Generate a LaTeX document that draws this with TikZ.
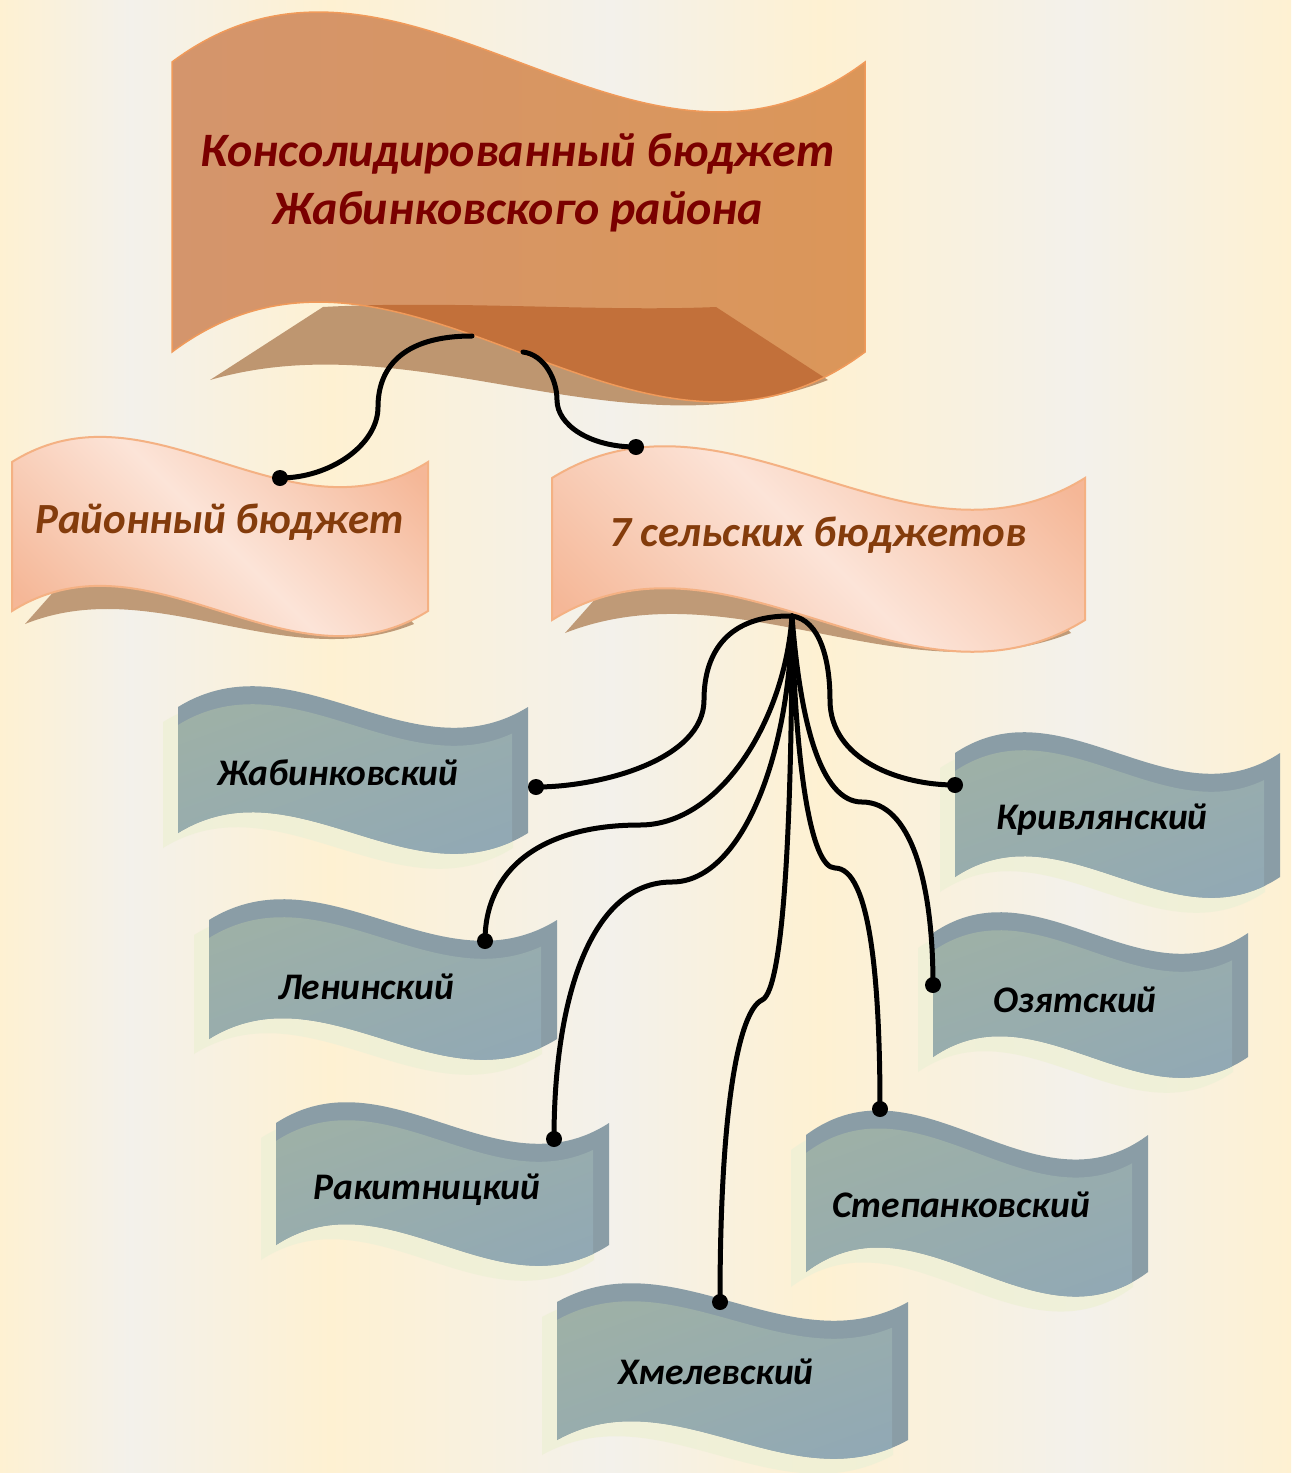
\documentclass[tikz,border=0pt]{standalone}
\usepackage{fontspec}
\setmainfont{Carlito}
\usetikzlibrary{calc}

\definecolor{bgcream}{HTML}{FEF1D2}
\definecolor{bglight}{HTML}{F3F1EB}
\definecolor{titleL}{HTML}{D4956C}
\definecolor{titleR}{HTML}{DB9659}
\definecolor{titleline}{HTML}{F09A5A}
\definecolor{titletan}{HTML}{BE9670}
\definecolor{titleover}{HTML}{C2703A}
\definecolor{titlered}{HTML}{7A0000}
\definecolor{peachL}{HTML}{FCE4D8}
\definecolor{peachD}{HTML}{F5B797}
\definecolor{peachline}{HTML}{F4B183}
\definecolor{midtan}{HTML}{BF9A77}
\definecolor{midbrown}{HTML}{843C0C}
\definecolor{grayband}{HTML}{8A9DA6}
\definecolor{grayL}{HTML}{9FB1A5}
\definecolor{grayR}{HTML}{90A8B6}
\definecolor{glowc}{HTML}{EEF0D6}

% wave banner outline: x, y (top left), width, height, bend
\newcommand{\wave}[5]{(#1,#2) .. controls ({#1+#3/3},{#2-#5}) and ({#1+2*#3/3},{#2+#5}) .. ({#1+#3},#2)
  -- ({#1+#3},{#2+#4}) .. controls ({#1+2*#3/3},{#2+#4+#5}) and ({#1+#3/3},{#2+#4-#5}) .. (#1,{#2+#4}) -- cycle}

% perspective shadow under a banner: x, bottom y, width, bend
\newcommand{\dropshadow}[4]{({#1+13},{#2+13}) -- ({#1+60},{#2-40}) -- ({#1+#3-60},{#2-40}) -- ({#1+#3-14},{#2+13})
  .. controls ({#1+#3-14-(#3-27)/3},{#2+13+#4}) and ({#1+13+(#3-27)/3},{#2+13-#4}) .. ({#1+13},{#2+13}) -- cycle}

% grey 3d banner: x, y, width, height, bend
\newcommand{\villagebanner}[5]{%
  \fill[bandgray] \wave{#1}{#2}{#3}{#4}{#5};
  \begin{scope}
    \clip ({#1-1},{#2-100}) rectangle ({#1+#3-16},{#2+#4+100});
    \shade[faceshade] \wave{#1}{#2+18}{#3}{#4-18}{#5};
  \end{scope}}

\begin{document}
\begin{tikzpicture}[
    x=1pt, y=-1pt,
    conn/.style={line width=5pt, line cap=round},
    pin/.style={fill=black},
    titletext/.style={font=\fontsize{48}{58}\selectfont\bfseries\itshape, text=titlered, align=center},
    midtext/.style={font=\fontsize{43}{46}\selectfont\bfseries\itshape, text=midbrown},
    lowtext/.style={font=\fontsize{37.5}{40}\selectfont\bfseries\itshape, text=black},
    bandgray/.style={fill=grayband},
    faceshade/.style={left color=grayL, right color=grayR, shading angle=20},
    glow/.style={fill=glowc, opacity=0.8},
    peach/.style={top color=peachD, bottom color=peachD, middle color=peachL, shading angle=-45},
    peachborder/.style={draw=peachline, line width=2pt}
]
\useasboundingbox (0,0) rectangle (1291,1473);

% --- background stripes ---
\fill[bgcream] (0,0) rectangle (1291,1473);
\shade[left color=bgcream, right color=bglight] (0,0) rectangle (131,1473);
\shade[left color=bglight, right color=bgcream] (130,0) rectangle (331,1473);
\shade[left color=bgcream, right color=bglight] (330,0) rectangle (611,1473);
\shade[left color=bglight, right color=bgcream] (610,0) rectangle (821,1473);
\shade[left color=bgcream, right color=bglight] (820,0) rectangle (1081,1473);
\shade[left color=bglight, right color=bgcream] (1080,0) rectangle (1291,1473);

% --- top banner with its shadow ---
\def\titleshadow{(210,380) -- (323,307) .. controls (450,300) and (600,312) .. (716,307) -- (828,380)
  .. controls (622,460) and (416,320) .. (210,380) -- cycle}
\fill[titletan] \titleshadow;
\shade[left color=titleL, right color=titleR] \wave{172}{62}{693}{290}{173};
\begin{scope}
  \clip \wave{172}{62}{693}{290}{173};
  \fill[titleover] \titleshadow;
\end{scope}
\draw[titleline, line width=1.5pt] \wave{172}{62}{693}{290}{173};
\node[titletext] (title) at (518,183) {Консолидированный бюджет\\Жабинковского района};

% --- district and village budgets ---
\fill[midtan] \dropshadow{12}{611}{416}{52};
\shade[peach] \wave{12}{462}{416}{149}{87};
\draw[peachborder] \wave{12}{462}{416}{149}{87};
\node[midtext] (rayon) at (220,522) {Районный бюджет};

\fill[midtan] \dropshadow{552}{620}{533}{66};
\shade[peach] \wave{552}{478}{533}{142}{110};
\draw[peachborder] \wave{552}{478}{533}{142}{110};
\node[midtext] (selsk) at (818,535) {7 сельских бюджетов};

% --- seven village councils ---
\fill[glow] \wave{163}{722}{350}{126}{72};
\fill[glow] \wave{194}{935}{348}{119}{72};
\fill[glow] \wave{261}{1138}{333}{122}{72};
\fill[glow] \wave{542}{1317}{351}{138}{65};
\fill[glow] \wave{791}{1150}{342}{137}{85};
\fill[glow] \wave{918}{948}{315}{124}{72};
\fill[glow] \wave{940}{768}{325}{124}{72};

\villagebanner{178}{707}{350}{126}{72}
\villagebanner{209}{920}{348}{119}{72}
\villagebanner{276}{1123}{333}{122}{72}
\villagebanner{557}{1302}{351}{138}{65}
\villagebanner{806}{1135}{342}{137}{85}
\villagebanner{933}{933}{315}{124}{72}
\villagebanner{955}{753}{325}{124}{72}

\node[lowtext] (zhab)  at (338,773)  {Жабинковский};
\node[lowtext] (lenin) at (366,987)  {Ленинский};
\node[lowtext] (rakit) at (427,1190) {Ракитницкий};
\node[lowtext] (hmel)  at (716,1372) {Хмелевский};
\node[lowtext] (stepa) at (961,1205) {Степанковский};
\node[lowtext] (ozyat) at (1075,1000) {Озятский};
\node[lowtext] (kriv)  at (1102,820) {Кривлянский};

% --- connector ends ---
\coordinate (top-l) at (472,336);
\coordinate (top-r) at (523,352);
\coordinate (rayon-pin) at (280,478);
\coordinate (selsk-pin) at (636,447);
\coordinate (hub) at (792,616);
\coordinate (zhab-pin) at (536,787);
\coordinate (lenin-pin) at (485,941);
\coordinate (rakit-pin) at (554,1139);
\coordinate (hmel-pin) at (720,1302);
\coordinate (stepa-pin) at (880,1109);
\coordinate (ozyat-pin) at (933,985);
\coordinate (kriv-pin) at (955,785);

% --- connectors ---
\draw[conn] (top-l) .. controls (400,336) and (378,370) .. (378,407)
  .. controls (378,445) and (330,478) .. (rayon-pin);
\draw[conn] (top-r) .. controls (545,355) and (557,380) .. (557,400)
  .. controls (557,425) and (590,447) .. (selsk-pin);

\draw[conn] (hub) .. controls (730,615) and (704,650) .. (704,700)
  .. controls (704,760) and (600,787) .. (zhab-pin);
\draw[conn] (hub) .. controls (785,720) and (720,825) .. (640,825)
  .. controls (540,825) and (485,870) .. (lenin-pin);
\draw[conn] (hub) .. controls (790,760) and (740,882) .. (672,882)
  .. controls (590,882) and (554,1000) .. (rakit-pin);
\draw[conn] (hub) .. controls (792,800) and (785,990) .. (762,1000)
  .. controls (740,1010) and (720,1100) .. (hmel-pin);
\draw[conn] (hub) .. controls (795,760) and (810,868) .. (835,868)
  .. controls (870,868) and (880,980) .. (stepa-pin);
\draw[conn] (hub) .. controls (800,720) and (820,802) .. (862,802)
  .. controls (910,802) and (933,880) .. (ozyat-pin);
\draw[conn] (hub) .. controls (820,620) and (830,660) .. (830,700)
  .. controls (830,760) and (900,785) .. (kriv-pin);

\foreach \p in {rayon-pin, selsk-pin, zhab-pin, lenin-pin, rakit-pin, hmel-pin, stepa-pin, ozyat-pin, kriv-pin}
  \fill[pin] (\p) circle (8pt);

\end{tikzpicture}
\end{document}
